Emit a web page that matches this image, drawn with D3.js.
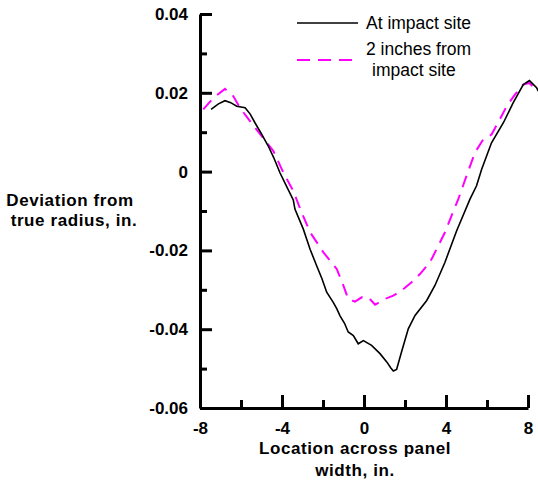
<!DOCTYPE html>
<html><head><meta charset="utf-8">
<script src="https://cdn.jsdelivr.net/npm/d3@7"></script>
<style>
body{margin:0;background:#fff;}
svg{display:block;}
text{font-family:"Liberation Sans",Arial,sans-serif;}
</style></head>
<body>
<svg id="chart" width="538" height="484"></svg>
<script>
// Data
const impactX = [-7.46,-7.1,-6.78,-6.5,-6.21,-5.8,-5.55,-5.32,-5.0,-4.67,-4.4,-4.1,-3.8,-3.45,-3.37,-2.96,-2.63,-2.31,-2.05,-1.82,-1.5,-1.33,-1.17,-0.95,-0.77,-0.52,-0.28,-0.03,0.37,0.78,1.11,1.3,1.43,1.59,1.83,2.16,2.49,3.06,3.46,3.95,4.52,5.17,5.49,5.74,6.22,6.8,7.28,7.77,8.07,8.42,8.5];
const impactY = [0.0158,0.0172,0.018,0.0175,0.0166,0.0162,0.0146,0.0124,0.0096,0.0065,0.0035,-0.0003,-0.0035,-0.0072,-0.0095,-0.0146,-0.0197,-0.0239,-0.0272,-0.0306,-0.0332,-0.0348,-0.0366,-0.0385,-0.0407,-0.0416,-0.0437,-0.0429,-0.0441,-0.0462,-0.0483,-0.0498,-0.0506,-0.0502,-0.0458,-0.0399,-0.0365,-0.0327,-0.0289,-0.0230,-0.0150,-0.0070,-0.0036,0.0006,0.0073,0.0124,0.0175,0.0221,0.0231,0.0213,0.0204];
const nearX = [-7.84,-7.35,-6.78,-6.37,-6.05,-5.56,-4.99,-4.42,-3.93,-3.45,-3.04,-2.63,-1.98,-1.33,-1.0,-0.77,-0.44,-0.11,0.21,0.54,1.02,1.43,1.83,2.32,2.73,3.22,3.54,3.95,4.2,4.6,5.0,5.41,5.82,6.22,6.63,6.96,7.37,7.77,8.05,8.42,8.5];
const nearY = [0.0158,0.0187,0.021,0.0191,0.0162,0.0128,0.009,0.0052,-0.0003,-0.0049,-0.0104,-0.0154,-0.0205,-0.0247,-0.029,-0.0323,-0.033,-0.0319,-0.0319,-0.0338,-0.0323,-0.0315,-0.0302,-0.0281,-0.026,-0.023,-0.0197,-0.0154,-0.0121,-0.007,-0.0011,0.0048,0.0082,0.0094,0.0133,0.0166,0.0196,0.0221,0.0225,0.0208,0.0203];
const xTicks = [-8,-4,0,4,8];
const xTickLabels = ["-8","-4","0","4","8"];
const xMinorTicks = [-6,-2,2,6];
const yTicks = [-0.06,-0.04,-0.02,0,0.02,0.04];
const yMinorTicks = [-0.05,-0.03,-0.01,0.01,0.03];
const yTickLabels = ["-0.06","-0.04","-0.02","0","0.02","0.04"];
const seriesNames = ["At impact site", "2 inches from", "impact site"];

const svg = d3.select("#chart");
const x = d3.scaleLinear().domain([-8, 8]).range([200, 528]);
const y = d3.scaleLinear().domain([-0.06, 0.04]).range([408, 14]);

const fontTick = 'bold 17px "Liberation Sans", Arial, sans-serif';

// Lines
const line = d3.line().x(d => x(d[0])).y(d => y(d[1]));
svg.append("path")
  .attr("d", line(nearX.map((v, i) => [v, nearY[i]])))
  .attr("fill", "none").attr("stroke", "#ff00ff").attr("stroke-width", 2)
  .attr("stroke-dasharray", "12,8");
svg.append("path")
  .attr("d", line(impactX.map((v, i) => [v, impactY[i]])))
  .attr("fill", "none").attr("stroke", "#000").attr("stroke-width", 1.6);

// Y axis
const yAxis = svg.append("g").attr("transform", `translate(${x(-8)},0)`)
  .call(d3.axisLeft(y).tickValues(yTicks).tickSize(-12).tickSizeOuter(0).tickPadding(12)
    .tickFormat((d, i) => yTickLabels[i]));
yAxis.select(".domain").attr("stroke-width", 3);
yAxis.selectAll(".tick line").attr("stroke-width", 3);
yAxis.selectAll(".tick text").style("font", fontTick).attr("fill", "#000");
const yMinor = svg.append("g").attr("transform", `translate(${x(-8)},0)`)
  .call(d3.axisLeft(y).tickValues(yMinorTicks).tickSize(-7).tickSizeOuter(0).tickFormat(""));
yMinor.select(".domain").remove();
yMinor.selectAll(".tick line").attr("stroke-width", 3);

// X axis
const xAxis = svg.append("g").attr("transform", `translate(0,${y(-0.06)})`)
  .call(d3.axisBottom(x).tickValues(xTicks).tickSize(-13).tickSizeOuter(0).tickPadding(14)
    .tickFormat((d, i) => xTickLabels[i]));
xAxis.select(".domain").attr("stroke-width", 3);
xAxis.selectAll(".tick line").attr("stroke-width", 3);
xAxis.selectAll(".tick text").style("font", fontTick).attr("fill", "#000");
const xMinor = svg.append("g").attr("transform", `translate(0,${y(-0.06)})`)
  .call(d3.axisBottom(x).tickValues(xMinorTicks).tickSize(-8).tickSizeOuter(0).tickFormat(""));
xMinor.select(".domain").remove();
xMinor.selectAll(".tick line").attr("stroke-width", 3);

// Axis titles
const xt = svg.append("text").attr("x", 355).attr("text-anchor", "middle")
  .style("font", fontTick).style("letter-spacing", "0.6px");
xt.append("tspan").attr("x", 355).attr("y", 454).text("Location across panel");
xt.append("tspan").attr("x", 355).attr("y", 476).text("width, in.");
const yt = svg.append("text").attr("text-anchor", "middle")
  .style("font", fontTick).style("letter-spacing", "0.6px");
yt.append("tspan").attr("x", 70).attr("y", 206).text("Deviation from");
yt.append("tspan").attr("x", 74).attr("y", 226).text("true radius, in.");

// Legend
const legFont = '17.5px "Liberation Sans", Arial, sans-serif';
svg.append("line").attr("x1", 297).attr("x2", 358).attr("y1", 23).attr("y2", 23)
  .attr("stroke", "#000").attr("stroke-width", 1.6);
svg.append("line").attr("x1", 297).attr("x2", 353).attr("y1", 60).attr("y2", 60)
  .attr("stroke", "#ff00ff").attr("stroke-width", 2).attr("stroke-dasharray", "13,8");
svg.append("text").attr("x", 366).attr("y", 29).style("font", legFont).text(seriesNames[0]);
svg.append("text").attr("x", 366).attr("y", 55).style("font", legFont).text(seriesNames[1]);
svg.append("text").attr("x", 372).attr("y", 76).style("font", legFont).text(seriesNames[2]);
</script>
</body></html>
